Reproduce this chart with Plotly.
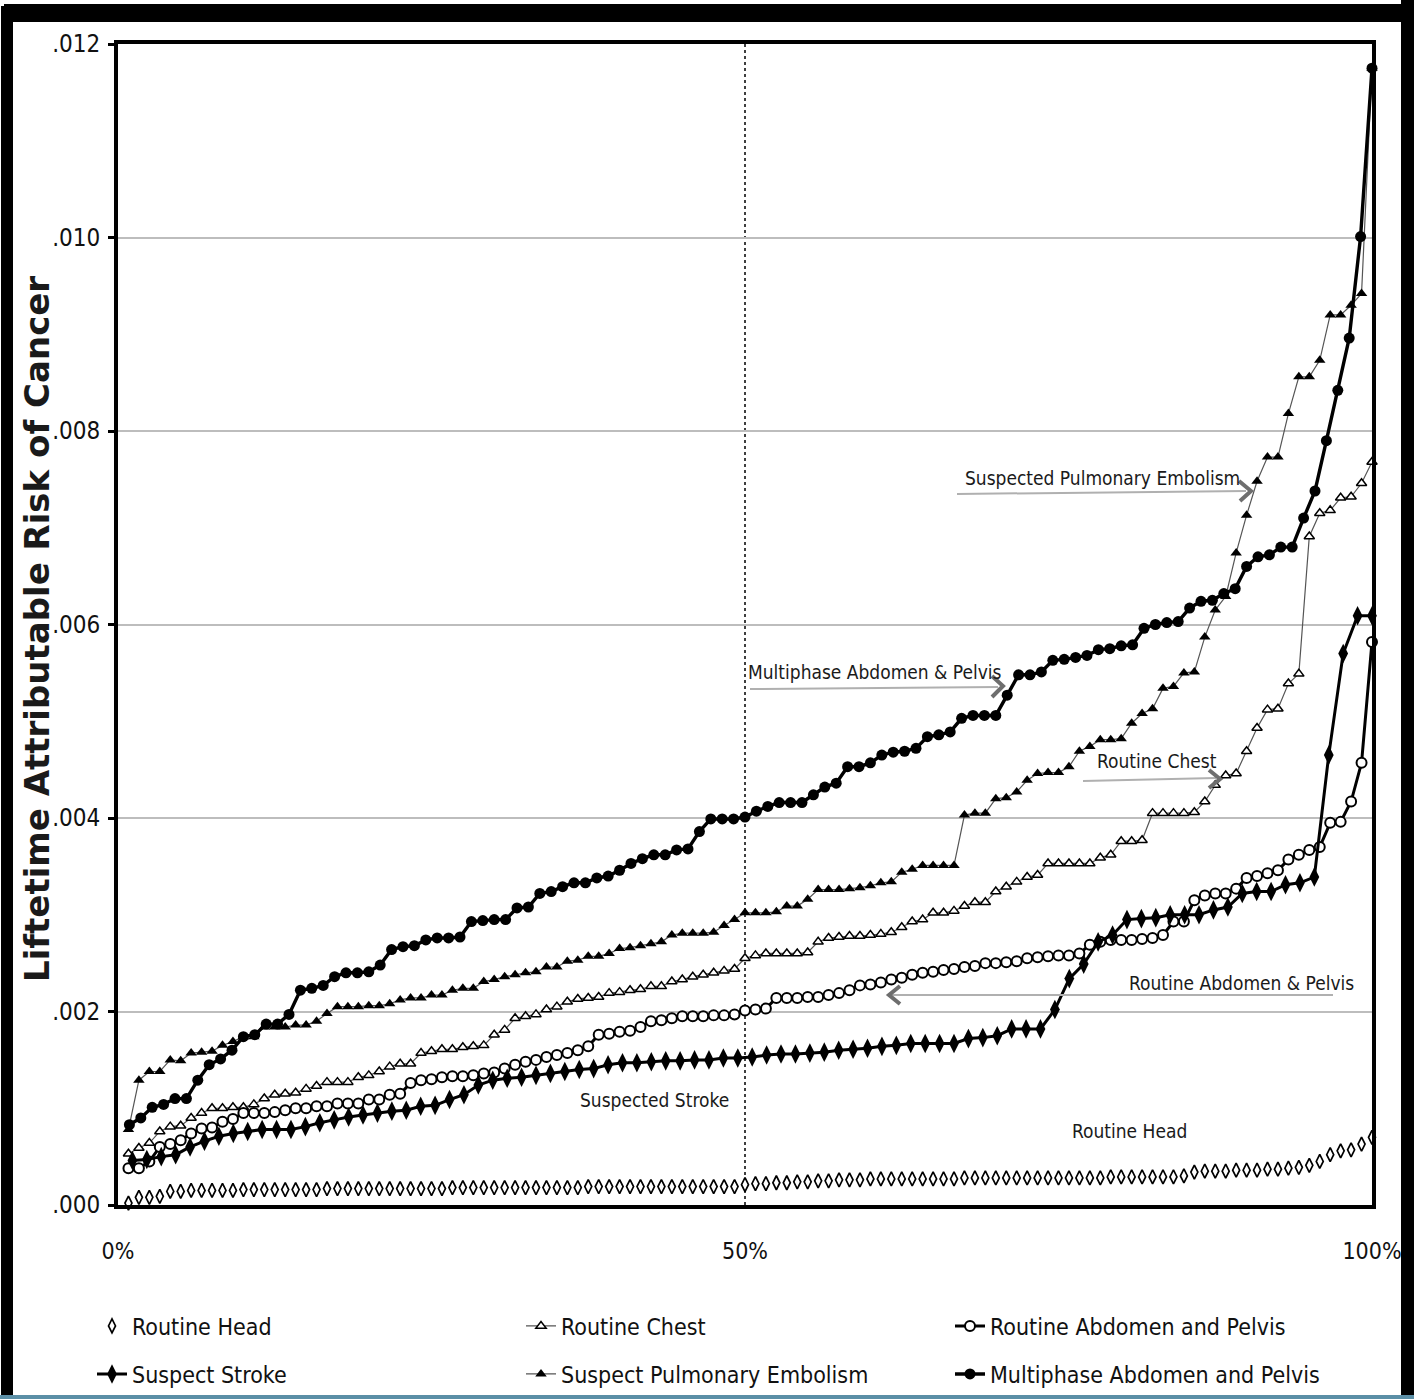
import plotly.graph_objects as go

# ---------------- data ----------------
tick_vals_y = [0.000, 0.002, 0.004, 0.006, 0.008, 0.010, 0.012]
tick_text_y = [".000", ".002", ".004", ".006", ".008", ".010", ".012"]
tick_vals_x = [0, 50, 100]
tick_text_x = ["0%", "50%", "100%"]
y_title = "Liftetime Attributable Risk of Cancer"

routine_head = [
    0.00002, 0.00008, 0.00008, 0.00009, 0.00014, 0.00014, 0.00015, 0.00015, 0.00015, 0.00015,
    0.00015, 0.00016, 0.00016, 0.00016, 0.00016, 0.00016, 0.00016, 0.00016, 0.00016, 0.00017,
    0.00017, 0.00017, 0.00017, 0.00017, 0.00017, 0.00017, 0.00017, 0.00017, 0.00017, 0.00017,
    0.00017, 0.00018, 0.00018, 0.00018, 0.00018, 0.00018, 0.00018, 0.00018, 0.00018, 0.00018,
    0.00018, 0.00018, 0.00018, 0.00018, 0.00019, 0.00019, 0.00019, 0.00019, 0.00019, 0.00019,
    0.00019, 0.00019, 0.00019, 0.00019, 0.00019, 0.00019, 0.00019, 0.00019, 0.00019, 0.00021,
    0.00022, 0.00022, 0.00023, 0.00023, 0.00024, 0.00024, 0.00025, 0.00025, 0.00026, 0.00026,
    0.00026, 0.00027, 0.00027, 0.00027, 0.00027, 0.00027, 0.00027, 0.00027, 0.00027, 0.00027,
    0.00028, 0.00028, 0.00028, 0.00028, 0.00028, 0.00028, 0.00028, 0.00028, 0.00028, 0.00028,
    0.00028, 0.00028, 0.00028, 0.00028, 0.00029, 0.00029, 0.00029, 0.00029, 0.00029, 0.00029,
    0.00029, 0.00030, 0.00034, 0.00035, 0.00035, 0.00035, 0.00036, 0.00036, 0.00036, 0.00037,
    0.00037, 0.00038, 0.00039, 0.00041, 0.00045, 0.00052, 0.00056, 0.00057, 0.00063, 0.00070,
]

routine_chest = [
    0.00053, 0.00059, 0.00064, 0.00076, 0.00081, 0.00082, 0.00090, 0.00095, 0.00100, 0.00100,
    0.00101, 0.00101, 0.00104, 0.00110, 0.00114, 0.00115, 0.00116, 0.00120, 0.00123, 0.00127,
    0.00127, 0.00127, 0.00132, 0.00134, 0.00138, 0.00143, 0.00146, 0.00146, 0.00157, 0.00159,
    0.00161, 0.00161, 0.00163, 0.00164, 0.00165, 0.00176, 0.00181, 0.00193, 0.00195, 0.00197,
    0.00202, 0.00205, 0.00210, 0.00213, 0.00214, 0.00215, 0.00219, 0.00220, 0.00222, 0.00223,
    0.00226, 0.00226, 0.00231, 0.00233, 0.00236, 0.00238, 0.00240, 0.00242, 0.00244, 0.00255,
    0.00258, 0.00260, 0.00260, 0.00260, 0.00260, 0.00261, 0.00272, 0.00276, 0.00277, 0.00278,
    0.00278, 0.00279, 0.00280, 0.00282, 0.00287, 0.00293, 0.00295, 0.00302, 0.00302, 0.00304,
    0.00309, 0.00313, 0.00313, 0.00324, 0.00329, 0.00334, 0.00339, 0.00341, 0.00353, 0.00353,
    0.00353, 0.00353, 0.00353, 0.00359, 0.00362, 0.00376, 0.00376, 0.00377, 0.00405, 0.00405,
    0.00405, 0.00405, 0.00406, 0.00417, 0.00434, 0.00444, 0.00446, 0.00469, 0.00493, 0.00512,
    0.00513, 0.00539, 0.00549, 0.00691, 0.00715, 0.00718, 0.00731, 0.00732, 0.00746, 0.00768,
]

routine_abdomen = [
    0.00038, 0.00038, 0.00045, 0.00060, 0.00063, 0.00067, 0.00074, 0.00079, 0.00080, 0.00086,
    0.00089, 0.00095, 0.00095, 0.00095, 0.00096, 0.00098, 0.00100, 0.00100, 0.00102, 0.00102,
    0.00105, 0.00105, 0.00105, 0.00109, 0.00109, 0.00114, 0.00115, 0.00126, 0.00129, 0.00130,
    0.00132, 0.00133, 0.00133, 0.00134, 0.00136, 0.00137, 0.00141, 0.00145, 0.00148, 0.00150,
    0.00153, 0.00155, 0.00157, 0.00160, 0.00164, 0.00176, 0.00177, 0.00179, 0.00180, 0.00184,
    0.00190, 0.00191, 0.00193, 0.00195, 0.00195, 0.00195, 0.00196, 0.00196, 0.00197, 0.00201,
    0.00202, 0.00203, 0.00214, 0.00214, 0.00214, 0.00215, 0.00215, 0.00217, 0.00219, 0.00222,
    0.00227, 0.00228, 0.00230, 0.00233, 0.00235, 0.00238, 0.00240, 0.00241, 0.00243, 0.00244,
    0.00246, 0.00247, 0.00250, 0.00250, 0.00251, 0.00252, 0.00255, 0.00256, 0.00257, 0.00258,
    0.00258, 0.00260, 0.00269, 0.00272, 0.00274, 0.00274, 0.00274, 0.00275, 0.00276, 0.00279,
    0.00293, 0.00293, 0.00315, 0.00320, 0.00322, 0.00322, 0.00327, 0.00338, 0.00340, 0.00343,
    0.00346, 0.00357, 0.00362, 0.00367, 0.00370, 0.00395, 0.00396, 0.00417, 0.00457, 0.00582,
]

suspect_stroke = [
    0.00046, 0.00047, 0.00050, 0.00052, 0.00060, 0.00066, 0.00071, 0.00074, 0.00076, 0.00078,
    0.00078, 0.00078, 0.00081, 0.00085, 0.00088, 0.00091, 0.00093, 0.00095, 0.00097, 0.00098,
    0.00102, 0.00103, 0.00109, 0.00114, 0.00124, 0.00129, 0.00131, 0.00132, 0.00134, 0.00136,
    0.00138, 0.00140, 0.00141, 0.00145, 0.00147, 0.00147, 0.00148, 0.00149, 0.00149, 0.00150,
    0.00150, 0.00152, 0.00152, 0.00153, 0.00155, 0.00156, 0.00156, 0.00157, 0.00158, 0.00160,
    0.00161, 0.00162, 0.00164, 0.00165, 0.00167, 0.00167, 0.00167, 0.00167, 0.00172, 0.00173,
    0.00175, 0.00182, 0.00182, 0.00182, 0.00202, 0.00234, 0.00249, 0.00272, 0.00279, 0.00295,
    0.00296, 0.00297, 0.00300, 0.00300, 0.00300, 0.00305, 0.00308, 0.00322, 0.00324, 0.00324,
    0.00331, 0.00333, 0.00339, 0.00465, 0.00570, 0.00609, 0.00609,
]

suspect_pe = [
    0.00078, 0.00129, 0.00138, 0.00138, 0.00150, 0.00149, 0.00157, 0.00158, 0.00159, 0.00165,
    0.00169, 0.00174, 0.00174, 0.00184, 0.00184, 0.00184, 0.00186, 0.00186, 0.00190, 0.00198,
    0.00205, 0.00205, 0.00205, 0.00206, 0.00206, 0.00208, 0.00212, 0.00214, 0.00214, 0.00217,
    0.00217, 0.00222, 0.00224, 0.00224, 0.00231, 0.00233, 0.00236, 0.00238, 0.00240, 0.00241,
    0.00246, 0.00246, 0.00252, 0.00253, 0.00257, 0.00257, 0.00260, 0.00265, 0.00266, 0.00268,
    0.00270, 0.00272, 0.00279, 0.00281, 0.00281, 0.00281, 0.00282, 0.00289, 0.00295, 0.00302,
    0.00302, 0.00302, 0.00303, 0.00309, 0.00309, 0.00316, 0.00326, 0.00326, 0.00326, 0.00327,
    0.00328, 0.00330, 0.00333, 0.00334, 0.00344, 0.00347, 0.00351, 0.00351, 0.00351, 0.00351,
    0.00403, 0.00405, 0.00405, 0.00420, 0.00421, 0.00427, 0.00439, 0.00446, 0.00447, 0.00447,
    0.00453, 0.00469, 0.00474, 0.00481, 0.00481, 0.00482, 0.00498, 0.00508, 0.00513, 0.00534,
    0.00536, 0.00550, 0.00551, 0.00587, 0.00615, 0.00629, 0.00674, 0.00713, 0.00748, 0.00773,
    0.00773, 0.00818, 0.00856, 0.00856, 0.00873, 0.00920, 0.00920, 0.00930, 0.00942, 0.01175,
]

multiphase_abdomen = [
    0.00083, 0.00090, 0.00101, 0.00104, 0.00110, 0.00110, 0.00129, 0.00145, 0.00151, 0.00160,
    0.00174, 0.00176, 0.00187, 0.00187, 0.00197, 0.00222, 0.00224, 0.00227, 0.00236, 0.00240,
    0.00240, 0.00241, 0.00248, 0.00264, 0.00267, 0.00268, 0.00274, 0.00276, 0.00276, 0.00277,
    0.00293, 0.00294, 0.00295, 0.00295, 0.00307, 0.00308, 0.00322, 0.00324, 0.00329, 0.00333,
    0.00333, 0.00338, 0.00340, 0.00346, 0.00353, 0.00358, 0.00362, 0.00362, 0.00367, 0.00368,
    0.00386, 0.00399, 0.00399, 0.00399, 0.00401, 0.00407, 0.00412, 0.00416, 0.00416, 0.00416,
    0.00424, 0.00432, 0.00436, 0.00453, 0.00453, 0.00457, 0.00465, 0.00468, 0.00469, 0.00472,
    0.00484, 0.00486, 0.00489, 0.00503, 0.00506, 0.00506, 0.00506, 0.00527, 0.00548, 0.00548,
    0.00551, 0.00563, 0.00564, 0.00566, 0.00568, 0.00574, 0.00575, 0.00578, 0.00579, 0.00596,
    0.00600, 0.00602, 0.00603, 0.00617, 0.00624, 0.00625, 0.00632, 0.00637, 0.00660, 0.00670,
    0.00672, 0.00680, 0.00680, 0.00710, 0.00738, 0.00790, 0.00842, 0.00896, 0.01001, 0.01175,
]

# ---------------- layout helpers ----------------
W, H = 1414, 1399
PL, PR, PT, PB = 118, 1372, 44, 1205
YMAX = 0.012
NARROW = "DejaVu Sans Condensed, Liberation Sans Narrow, sans-serif"


def percentiles(values):
    n = len(values)
    return [100.0 * (i + 1) / n for i in range(n)]


def dx(px):
    return (px - PL) / (PR - PL) * 100.0


def dy(py):
    return (PB - py) / (PB - PT) * YMAX


def ppx(px):
    return (px - PL) / (PR - PL)


def ppy(py):
    return (PB - py) / (PB - PT)


fig = go.Figure()

series = [
    ("Routine Head", routine_head, "markers", dict(symbol="diamond-tall", size=10, color="white",
                                                   line=dict(color="black", width=1.7)), None, "legend"),
    ("Routine Chest", routine_chest, "lines+markers", dict(symbol="triangle-up", size=9, color="white",
                                                            line=dict(color="black", width=1.5)),
     dict(color="#555555", width=1.2), "legend"),
    ("Routine Abdomen and Pelvis", routine_abdomen, "lines+markers", dict(symbol="circle", size=10, color="white",
                                                                           line=dict(color="black", width=2)),
     dict(color="black", width=3), "legend"),
    ("Suspect Stroke", suspect_stroke, "lines+markers", dict(symbol="diamond-tall", size=14, color="black",
                                                              line=dict(color="black", width=0)),
     dict(color="black", width=3), "legend2"),
    ("Suspect Pulmonary Embolism", suspect_pe, "lines+markers", dict(symbol="triangle-up", size=10, color="black",
                                                                      line=dict(color="black", width=0)),
     dict(color="#555555", width=1.2), "legend2"),
    ("Multiphase Abdomen and Pelvis", multiphase_abdomen, "lines+markers", dict(symbol="circle", size=11, color="black",
                                                                                 line=dict(color="black", width=0)),
     dict(color="black", width=3.4), "legend2"),
]

for name, vals, mode, marker, line, leg in series:
    kw = dict(x=percentiles(vals), y=vals, name=name, mode=mode, marker=marker,
              cliponaxis=False, legend=leg)
    if line is not None:
        kw["line"] = line
    fig.add_trace(go.Scatter(**kw))

# vertical 50% dashed line
shapes = [dict(type="line", xref="x", yref="y", x0=50, x1=50, y0=0, y1=YMAX,
               line=dict(color="black", width=1.5, dash="dot"), layer="below")]

# annotation arrows (line + chevron)
GRAY_LINE = "#b0b0b0"
GRAY_HEAD = "#6e6e6e"
arrows = [
    ((957, 494), (1246, 491), [(1239, 481), (1251, 491), (1240, 501)]),
    ((750, 689), (998, 687), [(992, 676), (1003, 686), (992, 697)]),
    ((1083, 781), (1216, 778), [(1209, 770), (1220, 779), (1209, 788)]),
    ((1333, 995), (892, 995), [(900, 986), (889, 995), (900, 1004)]),
]
for (a, b, chev) in arrows:
    shapes.append(dict(type="line", xref="x", yref="y", x0=dx(a[0]), y0=dy(a[1]),
                       x1=dx(b[0]), y1=dy(b[1]), line=dict(color=GRAY_LINE, width=2)))
    path = "M {} {} L {} {} L {} {}".format(dx(chev[0][0]), dy(chev[0][1]), dx(chev[1][0]), dy(chev[1][1]),
                                            dx(chev[2][0]), dy(chev[2][1]))
    shapes.append(dict(type="path", xref="x", yref="y", path=path,
                       line=dict(color=GRAY_HEAD, width=4)))

# outer picture frame
shapes += [
    dict(type="rect", xref="paper", yref="paper", x0=ppx(4), x1=ppx(1404), y0=ppy(22), y1=ppy(4),
         fillcolor="black", line=dict(width=0), layer="above"),
    dict(type="rect", xref="paper", yref="paper", x0=ppx(1), x1=ppx(13), y0=ppy(1395), y1=ppy(6),
         fillcolor="black", line=dict(width=0), layer="above"),
    dict(type="rect", xref="paper", yref="paper", x0=ppx(1401), x1=ppx(1414), y0=ppy(1395), y1=ppy(0),
         fillcolor="black", line=dict(width=0), layer="above"),
    dict(type="rect", xref="paper", yref="paper", x0=ppx(0), x1=ppx(1414), y0=ppy(1399), y1=ppy(1395),
         fillcolor="#5b8fa6", line=dict(width=0), layer="above"),
]

labels = [
    ("Suspected Pulmonary Embolism", 1102, 478),
    ("Multiphase Abdomen & Pelvis", 875, 672),
    ("Routine Chest", 1157, 761),
    ("Routine Abdomen & Pelvis", 1241, 983),
    ("Suspected Stroke", 654, 1100),
    ("Routine Head", 1129, 1131),
]
annotations = [dict(text=t, x=dx(px), y=dy(py), xref="x", yref="y", showarrow=False,
                    font=dict(family=NARROW, size=19, color="#1a1a1a"), xanchor="center", yanchor="middle")
               for t, px, py in labels]

# y-axis title placed precisely as a rotated annotation
annotations.append(dict(text=y_title, x=ppx(37), y=ppy(629), xref="paper", yref="paper", showarrow=False,
                        textangle=-90, xanchor="center", yanchor="middle",
                        font=dict(family="DejaVu Sans, Verdana, sans-serif", size=34, color="#1a1a1a",
                                  weight="bold")))

legend_common = dict(orientation="h", xanchor="left", yanchor="middle", entrywidth=384,
                     entrywidthmode="pixels", font=dict(family=NARROW, size=23, color="#111111"),
                     bgcolor="rgba(0,0,0,0)", itemwidth=30, traceorder="normal")

fig.update_layout(
    width=W, height=H,
    margin=dict(l=PL, r=W - PR, t=PT, b=H - PB, autoexpand=False),
    paper_bgcolor="white", plot_bgcolor="white",
    shapes=shapes, annotations=annotations,
    legend=dict(x=ppx(92), y=ppy(1326), **legend_common),
    legend2=dict(x=ppx(92), y=ppy(1374), **legend_common),
    xaxis=dict(range=[0, 100], tickvals=tick_vals_x, ticktext=tick_text_x, showgrid=False, zeroline=False,
               showline=True, linecolor="black", linewidth=4, mirror=True, ticks="",
               ticklabelstandoff=22, tickfont=dict(family=NARROW, size=23, color="#111111"),
               automargin=False),
    yaxis=dict(range=[0, YMAX], tickvals=tick_vals_y, ticktext=tick_text_y, showgrid=True,
               gridcolor="#bdbdbd", gridwidth=2, zeroline=False, showline=True, linecolor="black",
               linewidth=4, mirror=True, ticks="outside", ticklen=6, tickwidth=3, tickcolor="black",
               ticklabelstandoff=3, tickfont=dict(family=NARROW, size=24, color="#111111"),
               automargin=False),
)

fig.write_html("out.html", config={"displayModeBar": False},
               post_script="document.body.style.margin='0';document.body.style.overflow='hidden';")
